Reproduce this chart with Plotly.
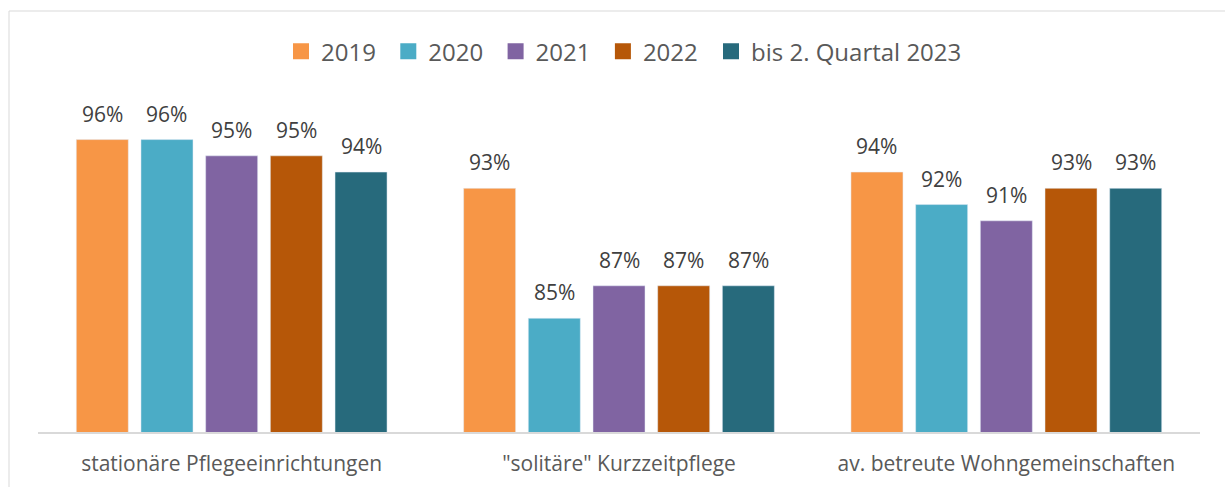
import plotly.graph_objects as go

# Kategorien und Werte (Anteile in %)
KATEGORIEN = ["stationäre Pflegeeinrichtungen", "\"solitäre\" Kurzzeitpflege",
              "av. betreute Wohngemeinschaften"]
JAHRE = ["2019", "2020", "2021", "2022", "bis 2. Quartal 2023"]
WERTE_2019 = [96, 93, 94]
WERTE_2020 = [96, 85, 92]
WERTE_2021 = [95, 87, 91]
WERTE_2022 = [95, 87, 93]
WERTE_2023 = [94, 87, 93]

FARBEN = ["#F79646", "#4BACC6", "#8064A2", "#B65708", "#276A7C"]
FONT = "Open Sans"
TEXT_GRAU = "#595959"

serien = [WERTE_2019, WERTE_2020, WERTE_2021, WERTE_2022, WERTE_2023]

W, H = 1225, 487
M_L, M_R, M_T, M_B = 38, 25, 60, 55
BARGAP = 0.165
plot_w = W - M_L - M_R
slot = plot_w / len(KATEGORIEN) * (1 - BARGAP) / len(JAHRE)

fig = go.Figure()
annotations = []
for i, (name, vals, col) in enumerate(zip(JAHRE, serien, FARBEN)):
    fig.add_trace(go.Bar(x=KATEGORIEN, y=vals, name=name, marker_color=col,
                         showlegend=False))
    # Legendeneintrag mit größerem Quadrat; letzter Eintrag in eigener Legende
    fig.add_trace(go.Scatter(x=[None], y=[None], mode="markers", name=name,
                             legend="legend2" if i == len(JAHRE) - 1 else "legend",
                             marker=dict(symbol="square", size=16, color=col)))
    for cat, v in zip(KATEGORIEN, vals):
        annotations.append(dict(
            x=cat, y=v, xref="x", yref="y", text=f"{v}%", showarrow=False,
            xshift=(i - 2) * slot, yshift=10, yanchor="bottom",
            font=dict(family=FONT, size=21, color="#404040"),
        ))

legend_style = dict(orientation="h", xanchor="left", yref="container",
                    y=1 - 51.7 / H, yanchor="middle",
                    font=dict(size=24, color=TEXT_GRAU),
                    bgcolor="rgba(0,0,0,0)")

fig.update_layout(
    width=W, height=H,
    margin=dict(l=M_L, r=M_R, t=M_T, b=M_B, autoexpand=False),
    barmode="group", bargap=BARGAP, bargroupgap=0.196,
    plot_bgcolor="white", paper_bgcolor="white",
    font=dict(family=FONT, color=TEXT_GRAU),
    legend=dict(legend_style, x=(281 - M_L) / plot_w, entrywidth=62.3),
    legend2=dict(legend_style, x=(711 - M_L) / plot_w),
    annotations=annotations,
    shapes=[dict(type="rect", xref="paper", yref="paper",
                 xsizemode="pixel", ysizemode="pixel", xanchor=0, yanchor=0,
                 x0=-29, x1=1300, y0=-200, y1=421,
                 line=dict(color="#D9D9D9", width=1), layer="below")],
)
fig.update_xaxes(showline=True, linecolor="#D9D9D9", linewidth=1.5,
                 ticks="outside", ticklen=12, tickcolor="rgba(0,0,0,0)",
                 tickfont=dict(size=21, color=TEXT_GRAU), showgrid=False,
                 automargin=False)
fig.update_yaxes(range=[78, 78 + (H - M_T - M_B) / 16.245], visible=False,
                 automargin=False)

fig.write_html("out.html", config={"displayModeBar": False},
               post_script="document.body.style.margin='0';")
